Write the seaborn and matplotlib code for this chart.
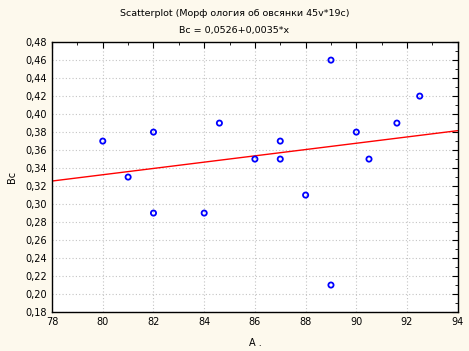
import numpy as np
import pandas as pd
import seaborn as sns
import matplotlib
matplotlib.use('Agg')
import matplotlib.pyplot as plt
from matplotlib.ticker import MultipleLocator, FuncFormatter

a_vals = [80, 81, 82, 82, 84, 84.6, 86, 87, 87, 88, 89, 89, 90, 90.5, 91.6, 92.5]
bc_vals = [0.37, 0.33, 0.38, 0.29, 0.29, 0.39, 0.35, 0.37, 0.35, 0.31, 0.46, 0.21, 0.38, 0.35, 0.39, 0.42]
intercept = 0.0526
slope = 0.0035

title_txt = 'Scatterplot (Морф ология об овсянки 45v*19c)'
eq_txt = 'Bc = 0,0526+0,0035*x'

df = pd.DataFrame({'A': a_vals, 'Bc': bc_vals})

sns.set_style('white')
plt.rcParams['font.family'] = ['DejaVu Sans']
plt.rcParams['text.color'] = 'black'
plt.rcParams['axes.labelcolor'] = 'black'
bg = '#fdf9ed'

fig = plt.figure(figsize=(4.69, 3.51), dpi=100, facecolor=bg)
ax = fig.add_axes([0.111, 0.111, 0.865, 0.769])
ax.set_facecolor('white')

ax.set_xlim(78, 94)
ax.set_ylim(0.18, 0.48)

# fitted line across the full x range
xl = np.array(ax.get_xlim())
ax.plot(xl, intercept + slope * xl, color='red', lw=1, zorder=2)

sns.scatterplot(data=df, x='A', y='Bc', ax=ax, marker='o', s=14,
                facecolors='none', edgecolor='blue', linewidth=1.3, zorder=3)

ax.xaxis.set_major_locator(MultipleLocator(2))
ax.xaxis.set_minor_locator(MultipleLocator(1))
ax.yaxis.set_major_locator(MultipleLocator(0.02))
ax.yaxis.set_minor_locator(MultipleLocator(0.01))
ax.yaxis.set_major_formatter(FuncFormatter(lambda v, p: f'{v:.2f}'.replace('.', ',')))

ax.grid(True, which='major', color='#c4c4c4', linestyle=(0, (1, 2)), lw=0.8)
for s in ax.spines.values():
    s.set_color('black')
    s.set_linewidth(1)

ax.tick_params(which='both', direction='in', top=True, right=True, labelsize=7,
               colors='black', labelcolor='black')
ax.tick_params(which='major', length=4)
ax.tick_params(which='minor', length=2)

ax.set_xlabel('A .', fontsize=7, labelpad=8)
ax.set_ylabel('Bc', fontsize=7, labelpad=6)

fig.text(0.5, 0.962, title_txt, ha='center', va='center', fontsize=6.8, color='black')
fig.text(0.5, 0.913, eq_txt, ha='center', va='center', fontsize=6.8, color='black')

fig.savefig('out.png', dpi=100, facecolor=bg)
